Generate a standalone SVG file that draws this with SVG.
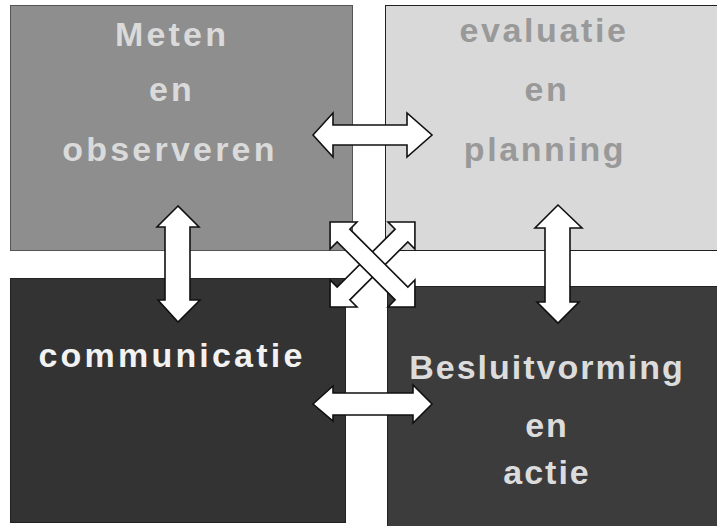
<svg xmlns="http://www.w3.org/2000/svg" width="717" height="526" viewBox="0 0 717 526">
<defs>
<style>
.q{stroke-width:1}
.t{font-family:"Liberation Sans",Arial,sans-serif;font-weight:bold;font-size:34px;text-anchor:middle;letter-spacing:3.2px}
.arr{fill:#ffffff;stroke:#111111;stroke-width:1.6;stroke-linejoin:miter}
</style>
<polygon id="diag" points="-60,0 -41,-19 -41,-9 41,-9 41,-19 60,0 41,19 41,9 -41,9 -41,19"/>
</defs>
<rect x="0" y="0" width="717" height="526" fill="#ffffff"/>
<g id="meten">
<rect class="q" x="10.5" y="5.5" width="342" height="245" fill="#8e8e8e" stroke="#555"/>
<g class="t" fill="#dadada">
<text x="172" y="46">Meten</text>
<text x="172" y="101">en</text>
<text x="170" y="161">observeren</text>
</g>
</g>
<g id="evaluatie">
<rect class="q" x="385.5" y="5.5" width="340" height="245" fill="#d9d9d9" stroke="#222"/>
<g class="t" fill="#999999" style="letter-spacing:2.6px">
<text x="544" y="42">evaluatie</text>
<text x="547" y="101">en</text>
<text x="545" y="161">planning</text>
</g>
</g>
<g id="communicatie">
<rect class="q" x="10.5" y="278.5" width="335" height="244" fill="#333333" stroke="#222"/>
<text class="t" x="172" y="367" fill="#f2f2f2">communicatie</text>
</g>
<g id="besluitvorming">
<rect class="q" x="387.5" y="286.5" width="340" height="250" fill="#3c3c3c" stroke="#222"/>
<g class="t" fill="#dcdcdc" style="letter-spacing:2px">
<text x="547" y="379">Besluitvorming</text>
<text x="547" y="437">en</text>
<text x="547" y="484">actie</text>
</g>
</g>
<g id="connectors">
<polygon class="arr" points="313,135 333,113 333,125 407,125 407,113 432,135 407,157 407,145 333,145 333,157"/>
<polygon class="arr" points="313,404 333,386 333,393 413,393 413,385 432,404 413,423 413,415 333,415 333,421"/>
<polygon class="arr" points="178,206 157,227 165,227 165,300 158,300 178,322 200,300 190,300 190,227 199,227"/>
<polygon class="arr" points="558,205 535,228 545,228 545,302 537,302 558,323 579,302 570,302 570,228 582,228"/>
<use href="#diag" class="arr" transform="translate(372.5,264.5) rotate(-45)"/>
<use href="#diag" class="arr" transform="translate(372.5,264.5) rotate(45)"/>
</g>
</svg>
